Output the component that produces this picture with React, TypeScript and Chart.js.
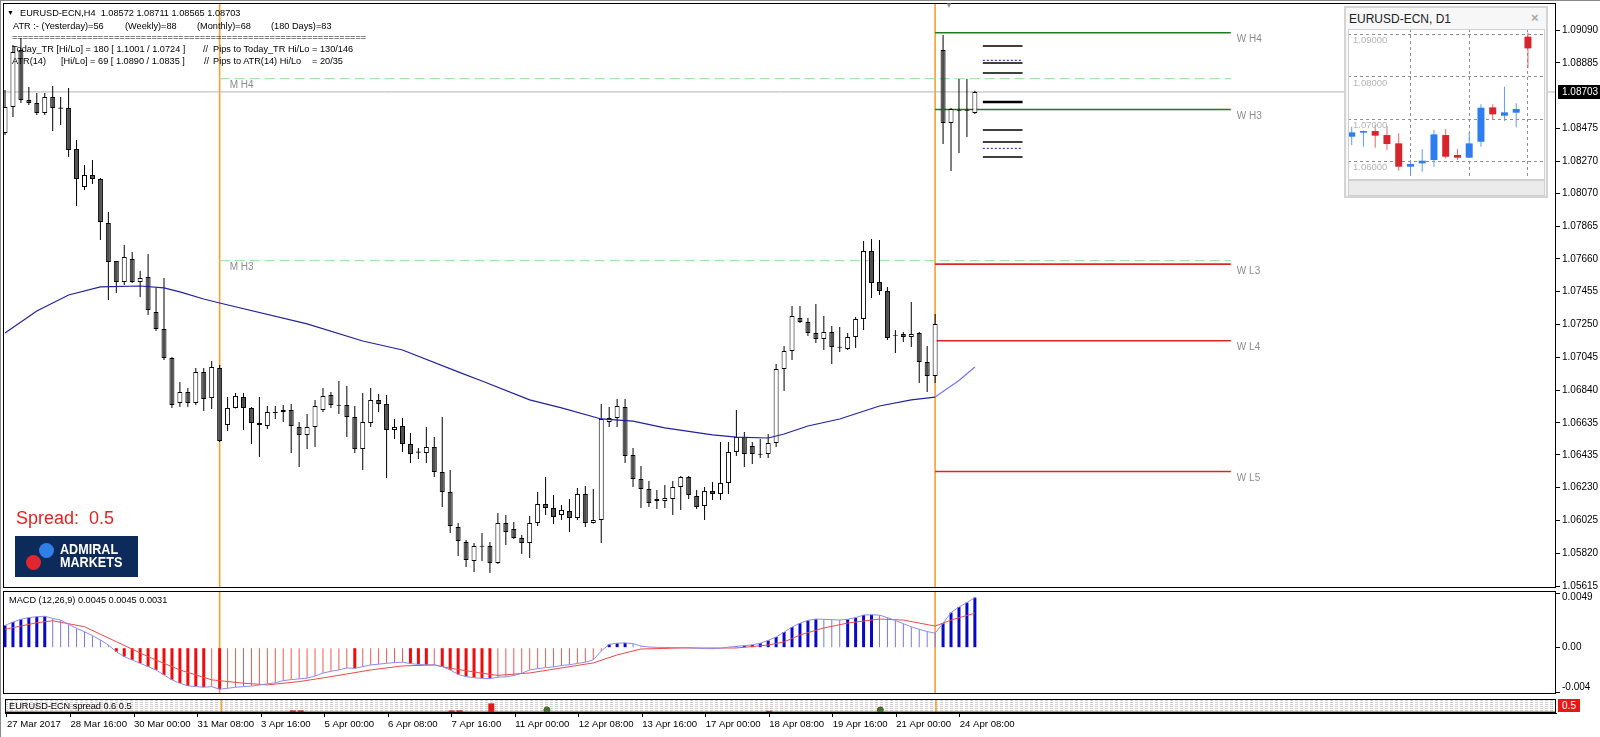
import React, { useEffect, useRef } from 'react';
import { Chart, registerables } from 'chart.js';

Chart.register(...registerables);

const FONT = '"Liberation Sans", Arial, sans-serif';
Chart.defaults.font.family = FONT;

// ---------- H4 bars (index 0 = 27 Mar 2017 08:00) ----------
const OPEN = [
  1.08446, 1.08609, 1.08965, 1.08653, 1.08634, 1.08571, 1.08671, 1.08603, 1.08603, 1.08346,
  1.08109, 1.08184, 1.08159, 1.07884, 1.07646, 1.07515, 1.07659, 1.07515, 1.07546, 1.07328,
  1.07221, 1.07040, 1.06759, 1.06828, 1.06759, 1.06953, 1.06790, 1.06978, 1.06621, 1.06728,
  1.06796, 1.06728, 1.06634, 1.06615, 1.06703, 1.06703, 1.06715, 1.06609, 1.06559, 1.06609,
  1.06715, 1.06809, 1.06746, 1.06746, 1.06671, 1.06471, 1.06634, 1.06778, 1.06753, 1.06590,
  1.06615, 1.06503, 1.06453, 1.06446, 1.06484, 1.06328, 1.06203, 1.05984, 1.05890, 1.05771,
  1.05865, 1.05865, 1.05759, 1.06009, 1.05971, 1.05915, 1.05884, 1.06009, 1.06128, 1.06103,
  1.06059, 1.06084, 1.06040, 1.06190, 1.06009, 1.06028, 1.06640, 1.06665, 1.06734, 1.06434,
  1.06284, 1.06221, 1.06159, 1.06146, 1.06159, 1.06234, 1.06296, 1.06178, 1.06115, 1.06209,
  1.06190, 1.06259, 1.06453, 1.06546, 1.06490, 1.06440, 1.06440, 1.06509, 1.06971, 1.07084,
  1.07290, 1.07265, 1.07196, 1.07159, 1.07203, 1.07109, 1.07096, 1.07171, 1.07284, 1.07709,
  1.07515, 1.07459, 1.07184, 1.07190, 1.07171, 1.07196, 1.07015, 1.06928, 1.08965, 1.08509,
  1.08590, 1.08590, 1.08572,
];
const HIGH = [
  1.08715, 1.08996, 1.09040, 1.08734, 1.08696, 1.08696, 1.08740, 1.08671, 1.08728, 1.08403,
  1.08246, 1.08278, 1.08165, 1.07953, 1.07646, 1.07746, 1.07703, 1.07584, 1.07690, 1.07478,
  1.07540, 1.07046, 1.06890, 1.06853, 1.06978, 1.06978, 1.07021, 1.06996, 1.06796, 1.06821,
  1.06821, 1.06734, 1.06796, 1.06740, 1.06740, 1.06746, 1.06753, 1.06640, 1.06690, 1.06778,
  1.06853, 1.06828, 1.06896, 1.06865, 1.06740, 1.06821, 1.06853, 1.06815, 1.06809, 1.06659,
  1.06665, 1.06571, 1.06478, 1.06609, 1.06546, 1.06671, 1.06340, 1.06009, 1.05903, 1.05884,
  1.05946, 1.05890, 1.06071, 1.06059, 1.06015, 1.05934, 1.06053, 1.06203, 1.06296, 1.06184,
  1.06121, 1.06159, 1.06228, 1.06240, 1.06221, 1.06753, 1.06734, 1.06784, 1.06784, 1.06478,
  1.06365, 1.06271, 1.06215, 1.06246, 1.06271, 1.06303, 1.06303, 1.06215, 1.06234, 1.06265,
  1.06515, 1.06515, 1.06715, 1.06578, 1.06515, 1.06534, 1.06565, 1.07003, 1.07115, 1.07365,
  1.07365, 1.07290, 1.07378, 1.07303, 1.07240, 1.07234, 1.07196, 1.07296, 1.07771, 1.07784,
  1.07778, 1.07484, 1.07215, 1.07203, 1.07390, 1.07203, 1.07115, 1.07315, 1.09059, 1.08603,
  1.08784, 1.08784, 1.08711,
];
const LOW = [
  1.08434, 1.08546, 1.08634, 1.08621, 1.08559, 1.08559, 1.08459, 1.08496, 1.08296, 1.07990,
  1.08090, 1.08128, 1.07778, 1.07403, 1.07446, 1.07496, 1.07509, 1.07421, 1.07309, 1.07209,
  1.07028, 1.06728, 1.06734, 1.06734, 1.06746, 1.06709, 1.06721, 1.06515, 1.06584, 1.06725,
  1.06590, 1.06503, 1.06421, 1.06596, 1.06659, 1.06640, 1.06446, 1.06359, 1.06471, 1.06484,
  1.06703, 1.06728, 1.06690, 1.06546, 1.06446, 1.06340, 1.06609, 1.06703, 1.06290, 1.06534,
  1.06453, 1.06384, 1.06409, 1.06384, 1.06296, 1.06109, 1.05946, 1.05803, 1.05734, 1.05703,
  1.05771, 1.05696, 1.05752, 1.05871, 1.05909, 1.05815, 1.05790, 1.05990, 1.06059, 1.06003,
  1.06028, 1.05953, 1.06028, 1.05984, 1.06005, 1.05884, 1.06609, 1.06609, 1.06384, 1.06234,
  1.06103, 1.06109, 1.06096, 1.06103, 1.06059, 1.06090, 1.06159, 1.06096, 1.06028, 1.06153,
  1.06153, 1.06190, 1.06428, 1.06359, 1.06378, 1.06415, 1.06415, 1.06484, 1.06834, 1.07028,
  1.07259, 1.07178, 1.07134, 1.07090, 1.07003, 1.07078, 1.07090, 1.07103, 1.07215, 1.07415,
  1.07434, 1.07153, 1.07071, 1.07140, 1.07109, 1.06884, 1.06828, 1.06884, 1.08378, 1.08209,
  1.08321, 1.08421, 1.08565,
];
const CLOSE = [
  1.08609, 1.08953, 1.08653, 1.08634, 1.08571, 1.08671, 1.08603, 1.08600, 1.08340, 1.08159,
  1.08184, 1.08159, 1.07890, 1.07640, 1.07515, 1.07671, 1.07515, 1.07540, 1.07340, 1.07221,
  1.07040, 1.06746, 1.06828, 1.06759, 1.06953, 1.06784, 1.06984, 1.06521, 1.06728, 1.06803,
  1.06728, 1.06634, 1.06621, 1.06703, 1.06696, 1.06715, 1.06615, 1.06559, 1.06609, 1.06740,
  1.06803, 1.06746, 1.06743, 1.06671, 1.06471, 1.06640, 1.06778, 1.06753, 1.06590, 1.06609,
  1.06503, 1.06440, 1.06450, 1.06484, 1.06328, 1.06203, 1.05990, 1.05896, 1.05778, 1.05865,
  1.05862, 1.05759, 1.06009, 1.05953, 1.05915, 1.05884, 1.06009, 1.06128, 1.06103, 1.06046,
  1.06090, 1.06040, 1.06190, 1.06009, 1.06028, 1.06659, 1.06665, 1.06740, 1.06428, 1.06284,
  1.06221, 1.06134, 1.06146, 1.06165, 1.06234, 1.06296, 1.06184, 1.06109, 1.06209, 1.06190,
  1.06259, 1.06453, 1.06546, 1.06440, 1.06440, 1.06437, 1.06509, 1.06971, 1.07084, 1.07303,
  1.07265, 1.07196, 1.07159, 1.07203, 1.07109, 1.07106, 1.07171, 1.07284, 1.07709, 1.07509,
  1.07459, 1.07165, 1.07181, 1.07171, 1.07190, 1.07015, 1.06928, 1.07253, 1.08509, 1.08596,
  1.08587, 1.08587, 1.08703,
];
const CURRENT_PRICE = 1.08703;

// moving average (read at these bars)
const MA_BARS = [0, 4, 8, 12, 17, 20, 22, 25, 27, 38, 45, 50, 57, 60, 66, 70, 75, 79, 83, 89, 92, 96, 98, 101, 105, 110, 114, 117, 120, 122];
const MA_VALUES = [1.07196, 1.07334, 1.07434, 1.07484, 1.0749, 1.07478, 1.07453, 1.07409, 1.07384, 1.07253, 1.07146, 1.0709, 1.06953, 1.06896, 1.06778, 1.06728, 1.06659, 1.06646, 1.06603, 1.06559, 1.06546, 1.0654, 1.06565, 1.06615, 1.06659, 1.0674, 1.06778, 1.06796, 1.069, 1.06984];

const PRICE_TICKS = [1.0909, 1.08885, 1.08475, 1.0827, 1.0807, 1.07865, 1.0766, 1.07455, 1.0725, 1.07045, 1.0684, 1.06635, 1.06435, 1.0623, 1.06025, 1.0582, 1.05615];
const X_LABEL_BARS = [0, 8, 16, 24, 32, 40, 48, 56, 64, 72, 80, 88, 96, 104, 112, 120];
const X_LABELS = ['27 Mar 2017', '28 Mar 16:00', '30 Mar 00:00', '31 Mar 08:00', '3 Apr 16:00', '5 Apr 00:00', '6 Apr 08:00', '7 Apr 16:00', '11 Apr 00:00', '12 Apr 08:00', '13 Apr 16:00', '17 Apr 00:00', '18 Apr 08:00', '19 Apr 16:00', '21 Apr 00:00', '24 Apr 08:00'];
const WEEK_SEPARATORS = [27, 117];

// pivot levels
const LEVEL_NAMES = ['M H4', 'M H3', 'W H4', 'W H3', 'W L3', 'W L4', 'W L5'];
const LEVEL_PRICES = [1.08786, 1.07648, 1.09073, 1.08593, 1.07627, 1.07148, 1.06331];
const LEVEL_FROM = [27, 27, 117, 117, 117, 117, 117];
const LEVEL_TO = [154.2, 154.2, 154.2, 154.2, 154.2, 154.2, 154.2];

// ATR projection lines
const ATR_PRICES = [1.0899, 1.089, 1.08884, 1.08821, 1.0864, 1.08465, 1.0839, 1.0835, 1.08296];
const ATR_KIND = ['tr', 'atr', 'tr', 'tr', 'open', 'tr', 'tr', 'atr', 'tr'];
const ATR_FROM = 123;
const ATR_TO = 128;

// MACD (12,26,9)
const MACD = [
  0.002, 0.0023, 0.00255, 0.0027, 0.00278, 0.00282, 0.00263, 0.00248, 0.0021, 0.00174,
  0.00143, 0.00108, 0.00069, 0.00024, -0.00036, -0.00081, -0.0011, -0.0014, -0.0017, -0.002,
  -0.00245, -0.00289, -0.00319, -0.00343, -0.00349, -0.00355, -0.0035, -0.00373, -0.00365, -0.00355,
  -0.0035, -0.00345, -0.00335, -0.00325, -0.00315, -0.00296, -0.00287, -0.0028, -0.00274, -0.00255,
  -0.00228, -0.00212, -0.002, -0.00182, -0.00186, -0.0017, -0.00155, -0.00148, -0.0014, -0.00134,
  -0.0013, -0.00143, -0.0015, -0.00155, -0.00154, -0.0017, -0.002, -0.0024, -0.0026, -0.0027,
  -0.00275, -0.00278, -0.00265, -0.00262, -0.0025, -0.0023, -0.002, -0.00188, -0.00179, -0.00173,
  -0.0016, -0.00153, -0.00142, -0.0013, -0.0011, -0.0003, 0.0003, 0.0004, 0.00043, 0.00036,
  0.00015, 0.00006, 0.00003, 0.00002, 0.00001, 0.000005, 0.000002, -0.00004, -0.00008, -0.00009,
  -0.00006, 0.00005, 0.00012, 0.00018, 0.00025, 0.0004, 0.00065, 0.00096, 0.0014, 0.00185,
  0.0022, 0.00245, 0.00257, 0.00255, 0.00252, 0.00248, 0.00255, 0.0027, 0.00293, 0.00296,
  0.00292, 0.0027, 0.00245, 0.00215, 0.00188, 0.00165, 0.00145, 0.0013, 0.0022, 0.00315,
  0.00365, 0.00405, 0.0045,
];
const SIGNAL_BARS = [0, 4, 6, 10, 14, 18, 22, 26, 30, 33, 37, 41, 46, 50, 54, 56, 60, 62, 66, 74, 77, 80, 85, 92, 96, 98, 100, 103, 106, 110, 113, 115, 117, 119, 122];
const SIGNAL_VALUES = [0.00165, 0.00224, 0.00242, 0.00188, 0.00054, -0.00081, -0.002, -0.00289, -0.00319, -0.00334, -0.00305, -0.0026, -0.002, -0.00164, -0.00155, -0.00185, -0.00229, -0.00249, -0.00227, -0.00137, -0.00065, -0.00012, -0.00003, -0.00003, 0.00024, 0.00051, 0.00114, 0.00177, 0.00221, 0.00257, 0.00248, 0.00221, 0.00194, 0.00248, 0.0031];
const MACD_TICKS = [0.0049, 0, -0.004];
const MACD_TICK_LABELS = ['0.0049', '0.00', '-0.004'];

// spread sub-window
const SPREAD_LEVEL = 0.5;
const SPREAD_SPIKE_BARS = [36, 37, 56, 57, 61, 96];
const SPREAD_SPIKE_VALUES = [0.7, 0.7, 0.7, 0.7, 1.5, 0.65];
const SPREAD_MARK_BARS = [68, 110];
const SPREAD_MARK_VALUES = [0.75, 0.75];
const SPREAD_GRID = [0.65, 0.88, 1.11, 1.34, 1.57, 1.8];

// D1 inset (3 Apr .. 24 Apr)
const D1_OPEN = [1.06583, 1.06678, 1.06717, 1.06622, 1.06425, 1.05872, 1.05951, 1.0603, 1.06622, 1.06149, 1.06085, 1.06464, 1.07278, 1.07081, 1.07152, 1.08953];
const D1_HIGH = [1.0682, 1.06725, 1.06859, 1.06836, 1.06662, 1.0603, 1.06291, 1.06741, 1.06765, 1.06291, 1.06701, 1.07349, 1.07349, 1.07768, 1.07373, 1.0905];
const D1_LOW = [1.06385, 1.06346, 1.06322, 1.06267, 1.05777, 1.05659, 1.05754, 1.05872, 1.06069, 1.0603, 1.06085, 1.06346, 1.06994, 1.06957, 1.06804, 1.08202];
const D1_CLOSE = [1.06686, 1.06717, 1.06607, 1.06409, 1.05872, 1.05935, 1.06014, 1.06638, 1.06109, 1.06085, 1.06425, 1.0727, 1.07112, 1.0716, 1.07239, 1.08676];
const D1_TICKS = [1.09, 1.08, 1.07, 1.06];
const D1_SEPARATORS = [5, 10, 15];

// ---------- layout constants ----------
const X_MIN = -0.2516;
const X_MAX = 195.1;
const Y_MIN = 1.056025;
const Y_MAX = 1.092588;
const MACD_MIN = -0.00416;
const MACD_MAX = 0.00509;

const noInteract = { legend: { display: false }, tooltip: { enabled: false } };

function vline(x: number, lo: number, hi: number, order: number) {
  return {
    type: 'line', data: [{ x, y: lo }, { x, y: hi }], borderColor: '#f9a02e', borderWidth: 1.6,
    pointRadius: 0, order,
  };
}

const framePlugin = {
  id: 'frame',
  afterDraw(chart: any) {
    const { ctx, chartArea: a } = chart;
    ctx.save();
    ctx.strokeStyle = '#000';
    ctx.lineWidth = 1;
    ctx.strokeRect(a.left + 0.5, a.top + 0.5, a.right - a.left - 1, a.bottom - a.top - 1);
    ctx.restore();
  },
};

const mainDecor = {
  id: 'mainDecor',
  afterDraw(chart: any) {
    const { ctx, chartArea: a, scales } = chart;
    const x = scales.x, y = scales.y;
    ctx.save();
    ctx.font = `10px ${FONT}`;
    ctx.textBaseline = 'middle';
    ctx.textAlign = 'left';
    ctx.fillStyle = '#8c8c8c';
    LEVEL_NAMES.forEach((n, k) => {
      const px = n.startsWith('M') ? x.getPixelForValue(LEVEL_FROM[k]) + 10 : x.getPixelForValue(LEVEL_TO[k]) + 6;
      ctx.fillText(n, px, y.getPixelForValue(LEVEL_PRICES[k]) + 7);
    });
    const py = y.getPixelForValue(CURRENT_PRICE);
    ctx.fillStyle = '#000';
    ctx.fillRect(a.right + 2, Math.round(py) - 7, 44, 14);
    ctx.fillStyle = '#fff';
    ctx.fillText(CURRENT_PRICE.toFixed(5), a.right + 6, py);
    ctx.restore();
  },
};

const macdDecor = {
  id: 'macdDecor',
  afterDraw(chart: any) {
    const { ctx, chartArea: a, scales } = chart;
    ctx.save();
    ctx.font = `10px ${FONT}`;
    ctx.textBaseline = 'middle';
    ctx.textAlign = 'left';
    ctx.fillStyle = '#000';
    MACD_TICKS.forEach((v, k) => {
      const py = Math.min(Math.max(scales.y.getPixelForValue(v), a.top + 6), a.bottom - 7);
      ctx.fillText(MACD_TICK_LABELS[k], a.right + 6, py);
    });
    ctx.restore();
  },
};

const d1Decor = {
  id: 'd1Decor',
  afterDraw(chart: any) {
    const { ctx, chartArea: a, scales } = chart;
    ctx.save();
    ctx.font = `9.5px ${FONT}`;
    ctx.textBaseline = 'middle';
    ctx.textAlign = 'left';
    ctx.fillStyle = '#b4b4b4';
    D1_TICKS.forEach((v) => {
      ctx.fillText(v.toFixed(5), a.left + 5, scales.y.getPixelForValue(v) + 6);
    });
    ctx.strokeStyle = '#d0d0d0';
    ctx.strokeRect(a.left + 0.5, a.top + 0.5, a.right - a.left - 1, a.bottom - a.top - 1);
    ctx.restore();
  },
};

function xScale(extra: any = {}) {
  return { type: 'linear', min: X_MIN, max: X_MAX, offset: false, display: false, grid: { offset: false }, ...extra };
}

function fixedRight(s: any) {
  s.width = 44;
  s.paddingTop = 0;
  s.paddingBottom = 0;
}

function mainConfig(): any {
  const bodies = OPEN.map((o, i) => {
    let lo = Math.min(o, CLOSE[i]);
    let hi = Math.max(o, CLOSE[i]);
    if (hi - lo < 0.00007) { const m = (hi + lo) / 2; lo = m - 0.000035; hi = m + 0.000035; }
    return { x: i, y: [lo, hi] };
  });
  const bodyFill = OPEN.map((o, i) => (CLOSE[i] > o ? '#ffffff' : '#505050'));
  const datasets: any[] = [
    {
      type: 'line', data: MA_BARS.map((b, k) => ({ x: b, y: MA_VALUES[k] })), borderColor: '#22229c',
      borderWidth: 1.2, pointRadius: 0, order: 0,
      segment: { borderColor: (c: any) => (c.p0.parsed.x >= 117 ? '#7474ee' : '#22229c') },
    },
    {
      type: 'bar', data: bodies, backgroundColor: bodyFill, borderColor: '#000', borderWidth: 1,
      borderSkipped: false, barThickness: 5, grouped: false, inflateAmount: 0, order: 1,
    },
    {
      type: 'bar', data: LOW.map((l, i) => ({ x: i, y: [l, HIGH[i]] })), backgroundColor: '#000',
      borderWidth: 0, barThickness: 1, grouped: false, inflateAmount: 0, order: 2,
    },
  ];
  LEVEL_NAMES.forEach((n, k) => {
    const isM = n.startsWith('M');
    const isH = n.includes('H');
    datasets.push({
      type: 'line', data: [{ x: LEVEL_FROM[k], y: LEVEL_PRICES[k] }, { x: LEVEL_TO[k], y: LEVEL_PRICES[k] }],
      borderColor: isM ? '#a6e4a6' : isH ? '#1f7a1f' : '#e02424', borderWidth: isM ? 1.2 : 1.6,
      borderDash: isM ? [10, 5] : [], pointRadius: 0, order: 3,
    });
  });
  ATR_PRICES.forEach((p, k) => {
    const kind = ATR_KIND[k];
    datasets.push({
      type: 'line', data: [{ x: ATR_FROM, y: p }, { x: ATR_TO, y: p }],
      borderColor: kind === 'atr' ? '#3c3cc8' : '#000', borderWidth: kind === 'open' ? 2.6 : kind === 'atr' ? 1.2 : 1.6,
      borderDash: kind === 'atr' ? [2, 2] : [], pointRadius: 0, order: 3,
    });
  });
  datasets.push({
    type: 'line', data: [{ x: X_MIN, y: CURRENT_PRICE }, { x: X_MAX, y: CURRENT_PRICE }],
    borderColor: '#b4b4b4', borderWidth: 1, pointRadius: 0, order: 4,
  });
  WEEK_SEPARATORS.forEach((s) => datasets.push(vline(s, Y_MIN, Y_MAX, 5)));

  return {
    type: 'bar',
    data: { datasets },
    options: {
      animation: false, responsive: false, maintainAspectRatio: false, events: [],
      layout: { padding: { left: 3, top: 3, right: 0, bottom: 2 } },
      plugins: noInteract,
      scales: {
        x: xScale(),
        y: {
          type: 'linear', position: 'right', min: Y_MIN, max: Y_MAX,
          afterFit: fixedRight,
          afterBuildTicks: (s: any) => { s.ticks = PRICE_TICKS.map((v) => ({ value: v })); },
          ticks: { autoSkip: false, color: '#000', padding: 2, font: { size: 10, family: FONT }, callback: (v: any) => Number(v).toFixed(5) },
          grid: { drawOnChartArea: false, drawTicks: true, tickLength: 4, color: '#000' },
          border: { display: false },
        },
      },
    },
    plugins: [framePlugin, mainDecor],
  };
}

function macdConfig(): any {
  const thick: any[] = [];
  const thin: any[] = [];
  MACD.forEach((v, i) => {
    const prev = i > 0 ? MACD[i - 1] : v - (v >= 0 ? 0.0001 : -0.0001);
    const strong = (v >= 0 && v > prev) || (v < 0 && v < prev);
    (strong ? thick : thin).push({ x: i, y: v });
  });
  const datasets: any[] = [
    { type: 'line', data: MACD.map((v, i) => ({ x: i, y: v })), borderColor: '#8c8cee', borderWidth: 1, pointRadius: 0, order: 0 },
    { type: 'line', data: SIGNAL_BARS.map((b, k) => ({ x: b, y: SIGNAL_VALUES[k] })), borderColor: '#ee4a4a', borderWidth: 1, pointRadius: 0, order: 0 },
    {
      type: 'bar', data: thick, backgroundColor: thick.map((p) => (p.y >= 0 ? '#0808c8' : '#ee0c0c')),
      barThickness: 3, grouped: false, inflateAmount: 0, order: 1,
    },
    {
      type: 'bar', data: thin, backgroundColor: thin.map((p) => (p.y >= 0 ? '#7878e4' : '#e45c5c')),
      barThickness: 1, grouped: false, inflateAmount: 0, order: 1,
    },
  ];
  WEEK_SEPARATORS.forEach((s) => datasets.push(vline(s, MACD_MIN, MACD_MAX, 2)));
  return {
    type: 'bar',
    data: { datasets },
    options: {
      animation: false, responsive: false, maintainAspectRatio: false, events: [],
      layout: { padding: { left: 3, top: 3, right: 0, bottom: 2 } },
      plugins: noInteract,
      scales: {
        x: xScale(),
        y: {
          type: 'linear', position: 'right', min: MACD_MIN, max: MACD_MAX,
          afterFit: fixedRight,
          afterBuildTicks: (s: any) => { s.ticks = MACD_TICKS.map((v) => ({ value: v })); },
          ticks: { display: false },
          grid: { drawOnChartArea: false, drawTicks: true, tickLength: 4, color: '#000' },
          border: { display: false },
        },
      },
    },
    plugins: [framePlugin, macdDecor],
  };
}

function spreadConfig(): any {
  const datasets: any[] = [
    {
      type: 'line', data: [{ x: X_MIN, y: SPREAD_LEVEL }, { x: X_MAX, y: SPREAD_LEVEL }],
      borderColor: '#cc1010', borderWidth: 1.5, pointRadius: 0, order: 1,
    },
    {
      type: 'bar', data: SPREAD_SPIKE_BARS.map((b, k) => ({ x: b, y: [SPREAD_LEVEL, SPREAD_SPIKE_VALUES[k]] })),
      backgroundColor: '#e01818', barThickness: 6, grouped: false, inflateAmount: 0, order: 0,
    },
    {
      type: 'line', data: SPREAD_MARK_BARS.map((b, k) => ({ x: b, y: SPREAD_MARK_VALUES[k] })), showLine: false,
      pointRadius: 3, pointBackgroundColor: '#2e7d32', pointBorderColor: '#8a3a10', pointBorderWidth: 1, order: 0,
    },
  ];
  WEEK_SEPARATORS.forEach((s) => datasets.push(vline(s, 0.4, 2.0, 2)));
  return {
    type: 'bar',
    data: { datasets },
    options: {
      animation: false, responsive: false, maintainAspectRatio: false, events: [],
      layout: { padding: { left: 3, top: 3, right: 0, bottom: 0 } },
      plugins: noInteract,
      scales: {
        x: {
          type: 'linear', position: 'bottom', min: X_MIN, max: X_MAX, offset: false,
          afterBuildTicks: (s: any) => { s.ticks = X_LABEL_BARS.map((v) => ({ value: v })); },
          afterFit: (s: any) => { s.height = 24; s.paddingLeft = 0; s.paddingRight = 0; },
          ticks: {
            autoSkip: false, maxRotation: 0, minRotation: 0, align: 'start', padding: 2, labelOffset: 0,
            color: '#000', font: { size: 9.6, family: FONT },
            callback: (_v: any, idx: number) => X_LABELS[idx],
          },
          grid: { drawOnChartArea: false, drawTicks: true, tickLength: 4, color: '#000', offset: false },
          border: { display: true, color: '#000' },
        },
        y: {
          type: 'linear', position: 'right', min: 0.4, max: 2.0,
          afterFit: fixedRight,
          afterBuildTicks: (s: any) => { s.ticks = SPREAD_GRID.map((v) => ({ value: v })); },
          ticks: { display: false },
          grid: { drawOnChartArea: true, drawTicks: false, color: '#cfcfcf' },
          border: { display: false, dash: [3, 2] },
        },
      },
    },
    plugins: [framePlugin],
  };
}

function d1Config(): any {
  const bodies = D1_OPEN.map((o, k) => ({ x: k, y: [Math.min(o, D1_CLOSE[k]), Math.max(o, D1_CLOSE[k])] }));
  const bodyCol = D1_OPEN.map((o, k) => (D1_CLOSE[k] >= o ? '#2d7ef0' : '#d7252d'));
  const wickCol = D1_OPEN.map((o, k) => (D1_CLOSE[k] >= o ? '#5e9cf2' : '#e26a6e'));
  return {
    type: 'bar',
    data: {
      datasets: [
        { type: 'bar', data: bodies, backgroundColor: bodyCol, borderWidth: 0, barThickness: 7, grouped: false, inflateAmount: 0, order: 0 },
        { type: 'bar', data: D1_LOW.map((l, k) => ({ x: k, y: [l, D1_HIGH[k]] })), backgroundColor: wickCol, borderWidth: 0, barThickness: 1, grouped: false, inflateAmount: 0, order: 1 },
      ],
    },
    options: {
      animation: false, responsive: false, maintainAspectRatio: false, events: [],
      layout: { padding: 0 },
      plugins: noInteract,
      scales: {
        x: {
          type: 'linear', min: -0.315, max: 16.45, offset: false,
          afterBuildTicks: (s: any) => { s.ticks = D1_SEPARATORS.map((v) => ({ value: v })); },
          ticks: { display: false },
          grid: { drawTicks: false, color: '#8f8f8f', offset: false },
          border: { display: false, dash: [3, 3] },
        },
        y: {
          type: 'linear', min: 1.05557, max: 1.09135,
          afterBuildTicks: (s: any) => { s.ticks = D1_TICKS.map((v) => ({ value: v })); },
          ticks: { display: false },
          grid: { drawTicks: false, color: '#8f8f8f' },
          border: { display: false, dash: [3, 3] },
        },
      },
    },
    plugins: [d1Decor],
  };
}

function Txt(props: { x: number; y: number; children: any; size?: number; color?: string; bold?: boolean }) {
  const size = props.size ?? 9.2;
  return (
    <div
      style={{
        position: 'absolute', left: props.x, top: props.y - 6, lineHeight: '12px', fontSize: size,
        fontFamily: FONT, color: props.color ?? '#000', whiteSpace: 'pre', fontWeight: props.bold ? 700 : 400,
        pointerEvents: 'none',
      }}
    >
      {props.children}
    </div>
  );
}

export default function App() {
  const mainRef = useRef<HTMLCanvasElement>(null);
  const macdRef = useRef<HTMLCanvasElement>(null);
  const spreadRef = useRef<HTMLCanvasElement>(null);
  const d1Ref = useRef<HTMLCanvasElement>(null);

  useEffect(() => {
    const charts: any[] = [];
    charts.push(new Chart(mainRef.current as any, mainConfig()));
    charts.push(new Chart(macdRef.current as any, macdConfig()));
    charts.push(new Chart(spreadRef.current as any, spreadConfig()));
    charts.push(new Chart(d1Ref.current as any, d1Config()));
    return () => charts.forEach((c) => c.destroy());
  }, []);

  const eq = '='.repeat(66);

  return (
    <div style={{ position: 'fixed', left: 0, top: 0, width: 1600, height: 737, background: '#fff', overflow: 'hidden' }}>
      <canvas ref={mainRef} width={1600} height={590} style={{ position: 'absolute', left: 0, top: 0, width: 1600, height: 590 }} />
      <canvas ref={macdRef} width={1600} height={108} style={{ position: 'absolute', left: 0, top: 588, width: 1600, height: 108 }} />
      <canvas ref={spreadRef} width={1600} height={43} style={{ position: 'absolute', left: 0, top: 694, width: 1600, height: 43 }} />

      <div style={{ position: 'absolute', left: 0, top: 0, width: 1600, height: 1, background: '#8a8a8a' }} />
      <div style={{ position: 'absolute', left: 0, top: 0, width: 1, height: 737, background: '#8a8a8a' }} />

      {/* header texts */}
      <Txt x={7} y={13} size={7}>▼</Txt>
      <Txt x={20} y={13}>EURUSD-ECN,H4  1.08572 1.08711 1.08565 1.08703</Txt>
      <Txt x={13} y={25.5}>ATR :- (Yesterday)=56</Txt>
      <Txt x={125} y={25.5}>(Weekly)=88</Txt>
      <Txt x={197} y={25.5}>(Monthly)=68</Txt>
      <Txt x={271} y={25.5}>(180 Days)=83</Txt>
      <Txt x={12} y={37}>{eq}</Txt>
      <Txt x={12} y={49}>Today_TR [Hi/Lo] = 180 [ 1.1001 / 1.0724 ]</Txt>
      <Txt x={203} y={49}>//</Txt>
      <Txt x={213} y={49}>Pips to Today_TR Hi/Lo</Txt>
      <Txt x={312} y={49}>= 130/146</Txt>
      <Txt x={12} y={61}>ATR(14)</Txt>
      <Txt x={61} y={61}>[Hi/Lo] = 69 [ 1.0890 / 1.0835 ]</Txt>
      <Txt x={204} y={61}>//</Txt>
      <Txt x={213} y={61}>Pips to ATR(14) Hi/Lo</Txt>
      <Txt x={312} y={61}>= 20/35</Txt>

      <Txt x={945} y={6} size={8} color="#9a9a9a">▼</Txt>

      {/* spread text and logo */}
      <div style={{ position: 'absolute', left: 16, top: 509, fontSize: 18, lineHeight: '18px', fontFamily: FONT, color: '#e52222', whiteSpace: 'pre' }}>Spread:  0.5</div>
      <div style={{ position: 'absolute', left: 15, top: 536, width: 123, height: 41, background: '#0c2a5a' }}>
        <div style={{ position: 'absolute', left: 24, top: 7, width: 15, height: 15, borderRadius: '50%', background: '#2f7fe6' }} />
        <div style={{ position: 'absolute', left: 11, top: 19, width: 15, height: 15, borderRadius: '50%', background: '#e0262e' }} />
        <div style={{ position: 'absolute', left: 45, top: 6, fontFamily: FONT, fontWeight: 700, fontSize: 15, lineHeight: '14px', color: '#fff', transform: 'scaleX(0.84)', transformOrigin: 'left top' }}>ADMIRAL</div>
        <div style={{ position: 'absolute', left: 45, top: 19, fontFamily: FONT, fontWeight: 700, fontSize: 15, lineHeight: '14px', color: '#fff', transform: 'scaleX(0.84)', transformOrigin: 'left top' }}>MARKETS</div>
      </div>

      {/* sub-window headers */}
      <Txt x={9} y={599.5}>MACD (12,26,9) 0.0045 0.0045 0.0031</Txt>
      <Txt x={9} y={706}>EURUSD-ECN spread 0.6 0.5</Txt>
      <div style={{ position: 'absolute', left: 1558, top: 699, width: 22, height: 13, background: '#e81616', color: '#fff', fontFamily: FONT, fontSize: 10, lineHeight: '13px', textAlign: 'center' }}>0.5</div>

      {/* D1 inset */}
      <div style={{ position: 'absolute', left: 1344, top: 6, width: 200, height: 188, border: '2px solid #d4d4d4', background: '#f7f7f7' }} />
      <Txt x={1349} y={18.5} size={12} color="#222">EURUSD-ECN, D1</Txt>
      <Txt x={1531} y={18} size={13} color="#a8a8a8" bold>×</Txt>
      <canvas ref={d1Ref} width={197} height={151} style={{ position: 'absolute', left: 1348, top: 29, width: 197, height: 151, background: '#fff' }} />
      <div style={{ position: 'absolute', left: 1348, top: 180, width: 195, height: 14, background: '#ebebeb', border: '1px solid #d0d0d0' }} />
    </div>
  );
}
